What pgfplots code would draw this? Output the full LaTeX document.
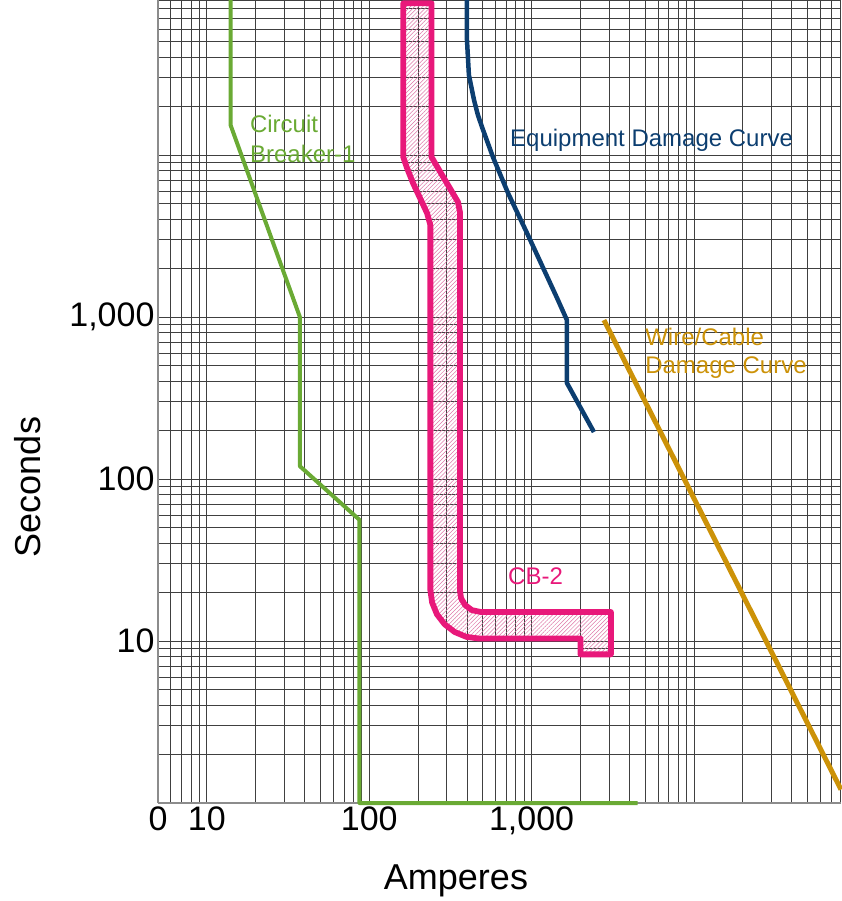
\documentclass[border=0pt]{standalone}
\usepackage{fontspec}
\setmainfont{Liberation Sans}
\usepackage{pgfplots}
\pgfplotsset{compat=1.18}
\usetikzlibrary{patterns.meta}
\definecolor{cbgreen}{RGB}{106,170,52}
\definecolor{cbnavy}{RGB}{12,62,112}
\definecolor{cbpink}{RGB}{232,24,122}
\definecolor{cbhatch}{RGB}{222,120,168}
\definecolor{cbgold}{RGB}{204,146,8}
\begin{document}
\begin{tikzpicture}
\begin{axis}[
  scale only axis, width=683pt, height=803pt,
  xmode=log, ymode=log,
  xmin=5, xmax=80500, ymin=1, ymax=90600,
  axis x line*=bottom, axis y line*=left,
  axis line style={draw=black!45, line width=1.6pt, -},
  xtick={5,6,7,8,9,10,20,30,40,50,60,70,80,90,100,200,300,400,500,600,700,800,900,1000,2000,3000,4000,5000,6000,7000,8000,9000,10000,20000,30000,40000,50000,60000,70000,80000},
  xticklabels={0,{},{},{},{},10,{},{},{},{},{},{},{},{},100,{},{},{},{},{},{},{},{},{1,000},{},{},{},{},{},{},{},{},{},{},{},{},{},{},{},{}},
  ytick={1,2,3,4,5,6,7,8,9,10,20,30,40,50,60,70,80,90,100,200,300,400,500,600,700,800,900,1000,2000,3000,4000,5000,6000,7000,8000,9000,10000,20000,30000,40000,50000,60000,70000,80000,90000},
  yticklabels={{},{},{},{},{},{},{},{},{},10,{},{},{},{},{},{},{},{},100,{},{},{},{},{},{},{},{},{1,000},{},{},{},{},{},{},{},{},{},{},{},{},{},{},{},{},{}},
  minor tick num=0,
  grid=major,
  major grid style={draw=black!75, line width=0.8pt},
  tick style={draw=none},
  ticklabel style={font=\fontsize{34}{40}\selectfont},
  xlabel={Amperes}, ylabel={Seconds},
  label style={font=\fontsize{36}{42}\selectfont},
  xlabel style={at={(axis description cs:0.4363,-0.1083)}, anchor=base},
  ylabel style={at={(axis description cs:-0.1903,0.3935)}, anchor=center},
  clip=false,
]
% CB-2 band
\addplot[draw=cbpink, line width=5.8pt, line join=round,
  pattern={Lines[angle=45,distance=2.9pt,line width=0.5pt]}, pattern color=cbhatch]
  coordinates {(200,86400) (242,86400) (242,9720) (254,8930) (324,5910) (352,5130) (362,4445)
   (362,20.6) (367.6,18.4) (388.8,16.7) (429.4,15.5) (487.6,15.1) (3080,15.1) (3080,8.27) (2000,8.27) (2000,10.36)
   (474.2,10.36) (396.6,10.61) (336.3,11.36) (291.4,12.68) (261.3,14.62) (244.1,17.26) (238,20.6) (238,3700) (227,4385)
   (186,6720) (171,8310) (162,9720) (162,86400) (200,86400)};
% Circuit breaker 1
\addplot[draw=cbgreen, line width=4pt, line join=round]
  coordinates {(14,90600) (14,15300) (37.4,1000) (37.4,120) (87,56) (87,1) (4500,1)};
% Equipment damage curve
\addplot[draw=cbnavy, line width=4.5pt, line join=round]
  coordinates {(400,90600) (400,51300) (411,31200) (442,21860) (467,17660) (495,14890) (578,9720)
   (716,5825) (937,3300) (1435,1310) (1650,958) (1650,392) (2420,195)};
% Wire/cable damage curve
\addplot[draw=cbgold, line width=5pt]
  coordinates {(2790,958) (80500,1.21)};
% annotations
\node[anchor=base west, inner sep=0pt, text=cbgreen, font=\fontsize{24}{28}\selectfont] at (18.4,13680) {Circuit};
\node[anchor=base west, inner sep=0pt, text=cbgreen, font=\fontsize{24}{28}\selectfont] at (18.4,8930) {Breaker-1};
\node[anchor=base west, inner sep=0pt, text=cbnavy, font=\fontsize{24}{28}\selectfont] at (736,11370) {Equipment Damage Curve};
\node[anchor=base west, inner sep=0pt, text=cbgold, font=\fontsize{24}{28}\selectfont] at (5000,671) {Wire/Cable};
\node[anchor=base west, inner sep=0pt, text=cbgold, font=\fontsize{24}{28}\selectfont] at (5000,445) {Damage Curve};
\node[anchor=base west, inner sep=0pt, text=cbpink, font=\fontsize{24}{28}\selectfont] at (716,22.2) {CB-2};
\end{axis}
\pgfresetboundingbox
\path[use as bounding box] ([shift={(-158pt,-98pt)}]current axis.south west) rectangle (current axis.north east);
\end{tikzpicture}
\end{document}
